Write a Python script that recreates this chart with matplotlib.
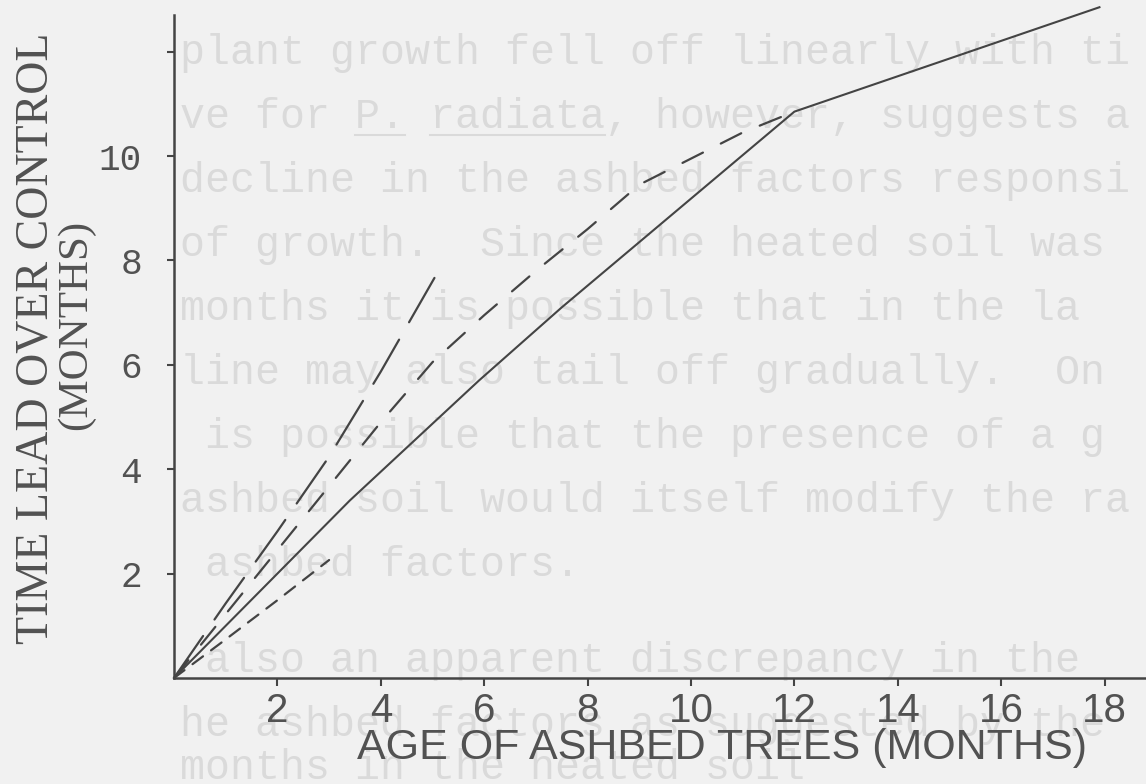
import matplotlib
matplotlib.use("Agg")
import matplotlib.pyplot as plt
from matplotlib.lines import Line2D

W, H = 1146, 784

# growth lead curves (months)
solid_x = [0, 3.4, 5.9, 7.5, 12.0, 17.9]
solid_y = [0, 3.4, 5.7, 7.1, 10.85, 12.85]

medium_x = [0, 2.0, 4.0, 5.0, 6.0, 7.0, 8.0, 9.0, 10.0, 11.0, 12.0]
medium_y = [0, 2.45, 4.9, 6.05, 6.95, 7.8, 8.6, 9.45, 9.95, 10.45, 10.85]

long_x = [0, 1.0, 2.0, 3.0, 4.0, 5.07]
long_y = [0, 1.43, 2.81, 4.24, 5.87, 7.72]

short_x = [0, 1.0, 2.0, 3.0]
short_y = [0, 0.74, 1.49, 2.26]

x_ticks = [2, 4, 6, 8, 10, 12, 14, 16, 18]
y_ticks = [2, 4, 6, 8, 10, 12]
y_ticklabels = ["2", "4", "6", "8", "10", ""]

# typed page showing through behind the figure (visible part only)
page_lines = [
    "plant growth fell off linearly with ti",
    "ve for P. radiata, however, suggests a",
    "decline in the ashbed factors responsi",
    "of growth.  Since the heated soil was",
    "months it is possible that in the la",
    "line may also tail off gradually.  On",
    " is possible that the presence of a g",
    "ashbed soil would itself modify the ra",
    " ashbed factors.",
    " also an apparent discrepancy in the",
    "he ashbed factors as suggested by the",
    "months in the heated soil",
]
page_line_y = [53, 117, 181, 245, 309, 373, 437, 501, 565, 661, 725, 768]
# underlined spans on the "radiata" line, in character columns
underline_cols = [(7, 9), (10, 17)]

ink = "#444444"
label_ink = "#525252"
paper = "#f1f1f1"
ghost = "#dadada"
pitch = 25  # px per character, Liberation Mono at 30 pt

fig = plt.figure(figsize=(W / 100, H / 100), dpi=100)
fig.patch.set_facecolor(paper)

for line, py in zip(page_lines, page_line_y):
    fig.text(180 / W, 1 - py / H, line, family="Liberation Mono", fontsize=30,
             color=ghost, va="center", ha="left", zorder=-2)
    if "radiata" in line:
        for c0, c1 in underline_cols:
            fig.add_artist(Line2D([(180 + c0 * pitch) / W, (180 + c1 * pitch) / W],
                                  [1 - (py + 18) / H] * 2, color=ghost, lw=1.5,
                                  transform=fig.transFigure, zorder=-2))

ax = fig.add_axes([174 / W, 106 / H, 1 - 174 / W, (678 - 15) / H])
ax.patch.set_alpha(0)

ax.plot(solid_x, solid_y, color=ink, lw=1.5, clip_on=False)
ax.plot(medium_x, medium_y, color=ink, lw=1.6, ls=(0, (10.3, 9)),
        dash_capstyle="round", clip_on=False)
ax.plot(long_x, long_y, color=ink, lw=1.6, ls=(0, (23, 9)),
        dash_capstyle="round", clip_on=False)
ax.plot(short_x, short_y, color=ink, lw=1.6, ls=(0, (5.9, 4.5)),
        dash_capstyle="round", clip_on=False)

ax.set_xlim(0, (W - 174) / 51.7)
ax.set_ylim(0, (678 - 15) / 52.2)

for side in ["top", "right"]:
    ax.spines[side].set_visible(False)
for side in ["left", "bottom"]:
    ax.spines[side].set_color(ink)
    ax.spines[side].set_linewidth(1.8)

ax.set_xticks(x_ticks)
ax.set_xticklabels([str(t) for t in x_ticks], family="Liberation Sans",
                   fontsize=29, color=label_ink)
ax.set_yticks(y_ticks)
ax.set_yticklabels(y_ticklabels, family="Liberation Mono", fontsize=26,
                   color=label_ink)
ax.tick_params(axis="x", direction="out", length=6, width=1.5, color=ink, pad=4)
ax.tick_params(axis="y", direction="out", length=5, width=1.5, color=ink, pad=18)

fig.text(722 / W, 1 - 748 / H, "AGE OF ASHBED TREES (MONTHS)",
         family="Liberation Sans", fontsize=31, color=label_ink,
         ha="center", va="center")
fig.text(36 / W, 1 - 338 / H, "TIME LEAD OVER CONTROL",
         family="Liberation Serif", fontsize=33, color=label_ink,
         rotation=90, ha="center", va="center")
fig.text(76 / W, 1 - 325 / H, "(MONTHS)",
         family="Liberation Serif", fontsize=31, color=label_ink,
         rotation=90, ha="center", va="center")

fig.savefig("out.png", dpi=100, facecolor=paper)
